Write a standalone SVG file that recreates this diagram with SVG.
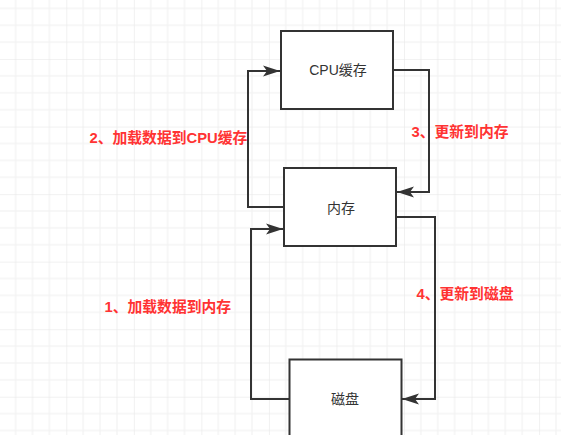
<svg xmlns="http://www.w3.org/2000/svg" width="561" height="435" viewBox="0 0 561 435">
  <defs>
    <pattern id="grid" patternUnits="userSpaceOnUse" x="-1.25" y="-8.5" width="67.54" height="67.54">
      <g stroke="#efefef" stroke-width="1" fill="none">
        <line x1="16.885" y1="0" x2="16.885" y2="67.54"/>
        <line x1="33.77" y1="0" x2="33.77" y2="67.54"/>
        <line x1="50.655" y1="0" x2="50.655" y2="67.54"/>
        <line x1="0" y1="16.885" x2="67.54" y2="16.885"/>
        <line x1="0" y1="33.77" x2="67.54" y2="33.77"/>
        <line x1="0" y1="50.655" x2="67.54" y2="50.655"/>
      </g>
      <g stroke="#e4e4e4" stroke-width="1" fill="none">
        <line x1="0" y1="0" x2="0" y2="67.54"/>
        <line x1="0" y1="0" x2="67.54" y2="0"/>
      </g>
    </pattern>
    <marker id="arrow" markerUnits="userSpaceOnUse" markerWidth="20" markerHeight="14" refX="17" refY="6" orient="auto" viewBox="0 0 20 12">
      <path d="M17,6 L0,0.5 L4,6 L0,11.5 Z" fill="#333333"/>
    </marker>
    <style>
      .node rect { fill: #ffffff; stroke: #333333; stroke-width: 2; }
      .node text { font-family: "Liberation Sans", "Noto Sans CJK SC", sans-serif; font-size: 14px; fill: #333333; text-anchor: middle; dominant-baseline: central; }
      .label { font-family: "Liberation Sans", "Noto Sans CJK SC", sans-serif; font-size: 14.8px; font-weight: bold; fill: #ff3333; dominant-baseline: central; }
      .edge { fill: none; stroke: #333333; stroke-width: 2; marker-end: url(#arrow); }
    </style>
  </defs>
  <rect x="0" y="0" width="561" height="435" fill="#ffffff"/>
  <rect x="0" y="0" width="561" height="435" fill="url(#grid)"/>

  <g id="labels">
    <text class="label" x="89.5" y="137.5">2、加载数据到CPU缓存</text>
    <text class="label" x="411.5" y="131.5">3、更新到内存</text>
    <text class="label" x="104.5" y="306.5">1、加载数据到内存</text>
    <text class="label" x="416.5" y="293.5">4、更新到磁盘</text>
  </g>

  <g id="connectors">
    <path class="edge" d="M289,399 L251,399 L251,229 L283,229"/>
    <path class="edge" d="M284,207 L248,207 L248,71 L280,71"/>
    <path class="edge" d="M393,70 L429,70 L429,192 L397,192"/>
    <path class="edge" d="M396,217 L435,217 L435,399 L402,399"/>
  </g>

  <g id="cpu-cache" class="node">
    <rect x="281" y="31" width="112" height="78"/>
    <text x="338" y="70">CPU缓存</text>
  </g>
  <g id="memory" class="node">
    <rect x="284" y="168" width="112" height="78"/>
    <text x="341" y="208">内存</text>
  </g>
  <g id="disk" class="node">
    <rect x="289.5" y="359.5" width="112" height="90"/>
    <text x="345" y="399">磁盘</text>
  </g>
</svg>
